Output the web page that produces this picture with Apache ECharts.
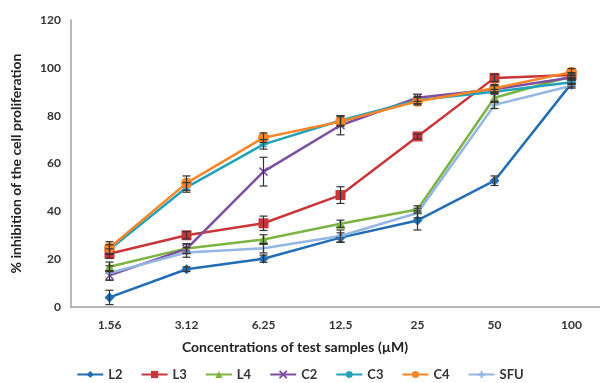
<!DOCTYPE html>
<html>
<head>
<meta charset="utf-8">
<script src="https://cdn.jsdelivr.net/npm/echarts@6/dist/echarts.min.js"></script>
<style>
    html, body { margin: 0; padding: 0; background: #fff; }
    #chart { width: 600px; height: 383px; }
</style>
</head>
<body>
<div id="chart"></div>
<script>
    // concentrations (µM)
    var categories = ['1.56', '3.12', '6.25', '12.5', '25', '50', '100'];
    var yTicks = [0, 20, 40, 60, 80, 100, 120];

    // % inhibition
    var L2 = [4, 15.8, 20.2, 29, 36.2, 52.8, 93.5];
    var L3 = [22.3, 30, 35, 46.8, 71.3, 95.8, 97];
    var L4 = [16.8, 24.5, 28.2, 34.8, 40.8, 87.5, 96.5];
    var C2 = [13.2, 24.3, 56.6, 76, 87.5, 91, 96];
    var C3 = [24, 50, 68, 78, 86.5, 90, 94];
    var C4 = [24.8, 51.8, 70.8, 77.5, 86, 91.5, 98.2];
    var SFU = [14.2, 22.8, 24.6, 29.7, 39.3, 84.5, 92.5];

    // error bar half-heights
    var errL2 = [3, 1, 1.5, 2, 4, 2, 1.5];
    var errL3 = [2, 1.5, 3, 3.5, 1, 1.5, 1];
    var errL4 = [2, 2, 2, 1.5, 1.5, 2, 1];
    var errC2 = [2, 2, 6, 4, 1.5, 1.5, 1];
    var errC3 = [2, 2, 2, 2, 1.5, 1, 1];
    var errC4 = [2.5, 3, 2, 2, 1.5, 1.5, 1.5];
    var errSFU = [3, 2, 2, 2.5, 2, 1.5, 1];

    var font = 'Lato, "Open Sans", sans-serif';

    var seriesDefs = [
        {name: 'L2', data: L2, err: errL2, color: '#236db4', symbol: 'diamond', size: 10},
        {name: 'L3', data: L3, err: errL3, color: '#c9363a', symbol: 'rect', size: 10},
        {name: 'L4', data: L4, err: errL4, color: '#7cb342', symbol: 'triangle', size: 10},
        {name: 'C2', data: C2, err: errC2, color: '#7b4f9f', symbol: 'path://M0,0L10,10M10,0L0,10', size: 8, stroke: true},
        {name: 'C3', data: C3, err: errC3, color: '#21a2b8', symbol: 'path://M5,0L5,10M0,5L10,5M1.5,1.5L8.5,8.5M8.5,1.5L1.5,8.5', size: 8, stroke: true},
        {name: 'C4', data: C4, err: errC4, color: '#f7862a', symbol: 'circle', size: 11},
        {name: 'SFU', data: SFU, err: errSFU, color: '#94b6e2', symbol: 'path://M5,0L5,10M0,5L10,5', size: 9, stroke: true}
    ];

    var series = [];
    var errData = [];
    seriesDefs.forEach(function (s) {
        series.push({
            name: s.name,
            type: 'line',
            data: s.data,
            symbol: s.symbol,
            symbolSize: s.size,
            showAllSymbol: true,
            lineStyle: {color: s.color, width: 2.5},
            itemStyle: s.stroke
                ? {color: s.color, borderColor: s.color, borderWidth: 1.5}
                : {color: s.color},
            z: 2
        });
        s.data.forEach(function (v, i) {
            errData.push([i, v - s.err[i], v + s.err[i]]);
        });
    });

    // error bars drawn through the axes
    series.push({
        type: 'custom',
        name: 'err',
        z: 3,
        silent: true,
        data: errData,
        renderItem: function (params, api) {
            var lo = api.coord([api.value(0), api.value(1)]);
            var hi = api.coord([api.value(0), api.value(2)]);
            var w = 4;
            var style = {stroke: '#333', lineWidth: 1.2};
            return {
                type: 'group',
                children: [
                    {type: 'line', shape: {x1: lo[0], y1: lo[1], x2: hi[0], y2: hi[1]}, style: style},
                    {type: 'line', shape: {x1: lo[0] - w, y1: lo[1], x2: lo[0] + w, y2: lo[1]}, style: style},
                    {type: 'line', shape: {x1: hi[0] - w, y1: hi[1], x2: hi[0] + w, y2: hi[1]}, style: style}
                ]
            };
        }
    });

    var myChart = echarts.init(document.getElementById('chart'));
    var option = {
        animation: false,
        backgroundColor: '#fff',
        textStyle: {fontFamily: font},
        title: {
            text: 'Concentrations of test samples (µM)',
            left: 290,
            top: 335,
            textAlign: 'center',
            textStyle: {fontFamily: font, fontSize: 14, fontWeight: 'bold', color: '#222'}
        },
        legend: {
            top: 363,
            left: 'center',
            itemWidth: 26,
            itemHeight: 9,
            itemGap: 18,
            data: seriesDefs.map(function (s) { return s.name; }),
            textStyle: {fontFamily: font, fontSize: 13, fontWeight: 'bold', color: '#333'}
        },
        grid: {
            left: 71,
            width: 539,
            top: 20,
            bottom: 76,
            outerBoundsMode: 'none'
        },
        xAxis: {
            type: 'category',
            data: categories,
            boundaryGap: true,
            axisLine: {lineStyle: {color: '#a0a0a0', width: 1.5}},
            axisTick: {show: false},
            axisLabel: {margin: 12, fontSize: 12, fontWeight: 'bold', color: '#333', fontFamily: font}
        },
        yAxis: {
            type: 'value',
            min: yTicks[0],
            max: yTicks[yTicks.length - 1],
            interval: 20,
            name: '% inhibition of the cell proliferation',
            nameLocation: 'middle',
            nameGap: 48,
            nameTextStyle: {fontFamily: font, fontSize: 14, fontWeight: 'bold', color: '#222'},
            axisLine: {show: true, lineStyle: {color: '#a0a0a0', width: 1.5}},
            axisTick: {show: false},
            splitLine: {show: false},
            axisLabel: {margin: 10, fontSize: 12, fontWeight: 'bold', color: '#333', fontFamily: font}
        },
        series: series
    };
    myChart.setOption(option);
</script>
</body>
</html>
